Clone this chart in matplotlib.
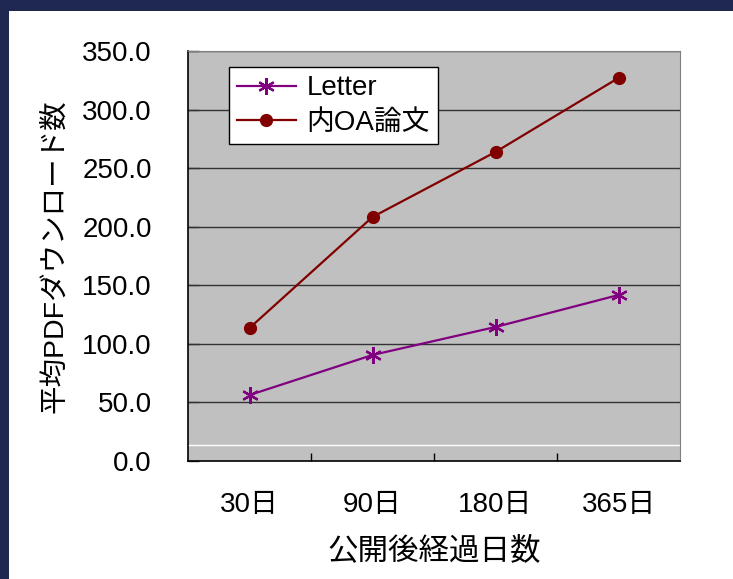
import matplotlib
matplotlib.use('Agg')
from matplotlib import pyplot as plt
from matplotlib.patches import Rectangle

plt.rcParams['font.family'] = ['Liberation Sans', 'Noto Sans CJK JP', 'DejaVu Sans']

# data
days = ['30日', '90日', '180日', '365日']
letter = [56.3, 90.5, 114.4, 141.7]
oa = [113.5, 208.3, 263.8, 327.0]
yticks = [0, 50, 100, 150, 200, 250, 300, 350]

fig = plt.figure(figsize=(7.33, 5.79), dpi=100)
fig.patch.set_facecolor('#1e2850')
# white slide area
fig.patches.append(Rectangle((9 / 733, 0), 1, 1 - 11 / 579, transform=fig.transFigure,
                             facecolor='white', edgecolor='none', zorder=-10))

ax = fig.add_axes([188 / 733, 1 - 461 / 579, 492 / 733, 410 / 579])
ax.set_facecolor('#c0c0c0')

x = list(range(len(days)))
ax.plot(x, letter, color='#800080', lw=1.6, marker=(6, 2, 0), markersize=12,
        markeredgewidth=1.6, label='Letter', zorder=3)
ax.plot(x, oa, color='#800000', lw=1.6, marker='o', markersize=8.5,
        label='内OA論文', zorder=3)

ax.set_xlim(-0.5, 3.5)
ax.set_ylim(0, 350)
ax.set_yticks(yticks)
ax.set_yticklabels(['%.1f' % v for v in yticks], fontsize=20)
for v in yticks[1:]:
    ax.axhline(v, color='#333333', lw=1, zorder=1)
ax.axhline(13.7, color='white', lw=1, zorder=1)

ax.set_xticks([0.5, 1.5, 2.5], minor=False)
ax.set_xticklabels([])
ax.set_xticks(x, minor=True)
ax.set_xticklabels(days, minor=True, fontsize=20)
ax.tick_params(axis='x', which='major', direction='in', length=6, width=1, color='black')
ax.tick_params(axis='x', which='minor', length=0, pad=22)
ax.tick_params(axis='y', direction='in', length=8, width=1, color='#333333', pad=26)

ax.spines['left'].set_color('black')
ax.spines['bottom'].set_color('black')
ax.spines['left'].set_linewidth(1.2)
ax.spines['bottom'].set_linewidth(1.2)
ax.spines['top'].set_color('#808080')
ax.spines['right'].set_color('#808080')

ax.set_xlabel('公開後経過日数', fontsize=22, labelpad=13)
ax.set_ylabel('平均PDFダウンロード数', fontsize=20.5, labelpad=10)

leg = ax.legend(loc='upper left', bbox_to_anchor=(0.083, 0.961), fontsize=20,
                frameon=True, fancybox=False, edgecolor='black', facecolor='white',
                framealpha=1, handlelength=2.1, borderpad=0.3, labelspacing=0.3,
                handletextpad=0.4, borderaxespad=0)
leg.get_frame().set_linewidth(1)

plt.savefig('out.png', dpi=100, facecolor=fig.get_facecolor())
